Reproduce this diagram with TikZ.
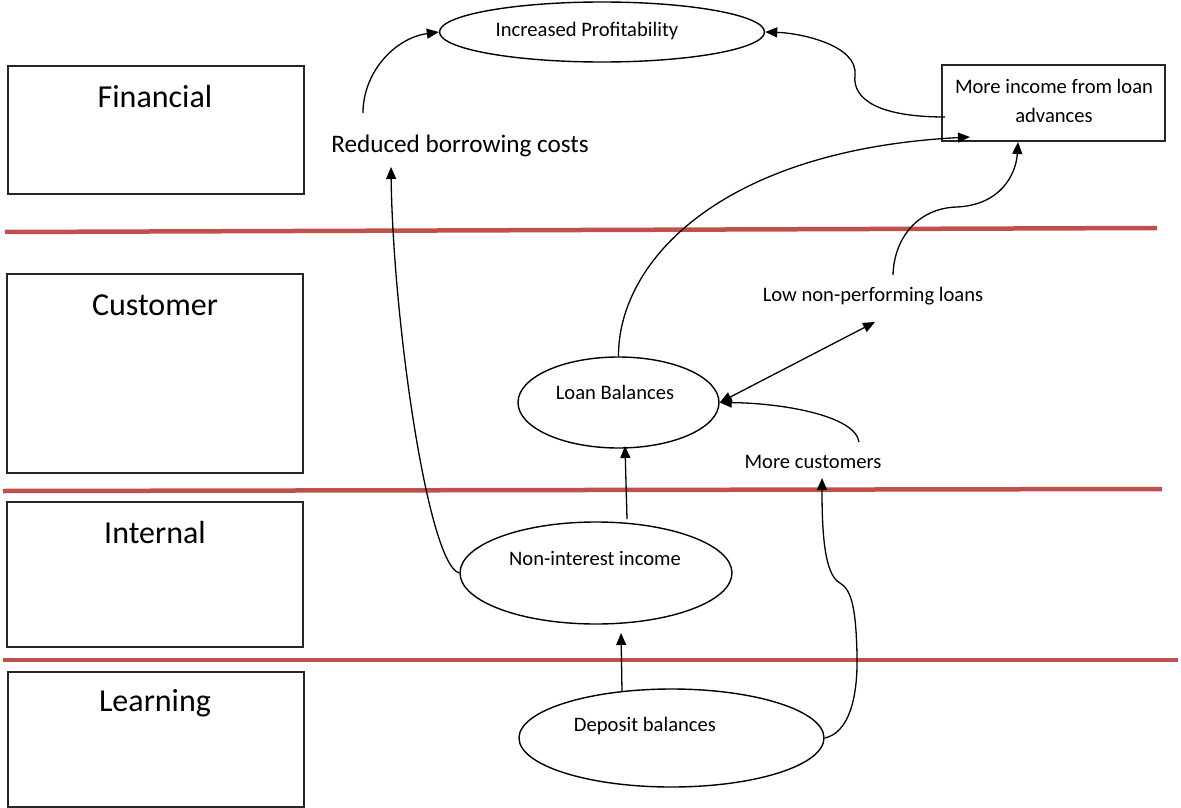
\documentclass[tikz,border=0pt]{standalone}
\usepackage{fontspec}
\setmainfont{Carlito}
\usetikzlibrary{shapes.geometric,arrows.meta}
\definecolor{redline}{RGB}{192,80,77}
\begin{document}
\begin{tikzpicture}[x=1pt,y=-1pt,
  persbox/.style={draw=black!85,line width=1.3pt,rectangle,inner sep=0pt},
  perslabel/.style={font=\fontsize{32}{36}\selectfont,inner sep=0pt},
  oval/.style={draw=black,line width=1.4pt,ellipse,inner sep=0pt},
  smalltext/.style={font=\fontsize{20.6}{24}\selectfont,inner sep=0pt},
  midtext/.style={font=\fontsize{25.2}{28}\selectfont,inner sep=0pt},
  conn/.style={draw=black,line width=1.3pt,-{Triangle[length=12pt,width=10pt]}},
  sep/.style={draw=redline,line width=4.5pt}]
\useasboundingbox (0,0) rectangle (1181,808);

% perspective boxes
\node[persbox,minimum width=296pt,minimum height=128pt] (fin) at (156,130) {};
\node[perslabel] (finl) at (155,97) {Financial};
\node[persbox,minimum width=296pt,minimum height=199pt] (cus) at (155,373.5) {};
\node[perslabel] (cusl) at (155,305) {Customer};
\node[persbox,minimum width=296pt,minimum height=145pt] (int) at (155,574.5) {};
\node[perslabel] (intl) at (155,533) {Internal};
\node[persbox,minimum width=296pt,minimum height=135pt] (lea) at (156,739.5) {};
\node[perslabel] (leal) at (155,703) {Learning};

% separators
\draw[sep] (5,232) -- (1157,228);
\draw[sep] (3,491) -- (1162,489);
\draw[sep] (3,660) -- (1178,660);

% nodes
\node[oval,minimum width=325pt,minimum height=60pt] (ip) at (602,32) {};
\node[smalltext] (ipl) at (587,31) {Increased Profitability};
\node[persbox,line width=1.4pt,minimum width=223pt,minimum height=76pt] (mi) at (1053.5,103) {};
\node[smalltext,align=center] (mil) at (1054,101) {More income from loan\\[5pt]advances};
\node[midtext] (rbc) at (460,146) {Reduced borrowing costs};
\node[oval,minimum width=201pt,minimum height=91pt] (lb) at (618.5,402.5) {};
\node[smalltext] (lbl) at (615,392) {Loan Balances};
\node[smalltext] (lnp) at (873,296) {Low non-performing loans};
\node[smalltext] (mc) at (813,462) {More customers};
\node[oval,minimum width=272pt,minimum height=102pt] (ni) at (596,573) {};
\node[smalltext] (nil) at (595,558) {Non-interest income};
\node[oval,minimum width=305pt,minimum height=98pt] (db) at (671.5,738) {};
\node[smalltext] (dbl) at (645,726) {Deposit balances};

% connector end points
\coordinate (rbcS) at (363,113);
\coordinate (miS) at (945,117);
\coordinate (miT) at (970,137);
\coordinate (miB) at (1018,142);
\coordinate (lnpS) at (893,275);
\coordinate (lnpT) at (875,322);
\coordinate (rbcT) at (391,167);
\coordinate (mcS) at (859,442);
\coordinate (mcT) at (822,478);
\coordinate (niS) at (627,519);
\coordinate (lbT) at (625,446);
\coordinate (dbS) at (622,691);
\coordinate (niT) at (621,633);

% connectors
\draw[conn] (rbcS) .. controls (363,72) and (395,38) .. (ip.west);
\draw[conn] (miS) .. controls (880,117) and (852,100) .. (855,75)
                   .. controls (858,45) and (800,33) .. (ip.east);
\draw[conn] (ni.west) .. controls (428,565) and (393,320) .. (rbcT);
\draw[conn] (lb.north) .. controls (618,262) and (720,150) .. (miT);
\draw[conn] (lnpS) .. controls (894,238) and (918,208) .. (957,207)
                   .. controls (1000,205) and (1016,175) .. (miB);
\draw[conn,{Triangle[length=12pt,width=10pt]}-{Triangle[length=12pt,width=10pt]}] (lb.east) -- (lnpT);
\draw[conn] (mcS) .. controls (855,415) and (780,403) .. (lb.east);
\draw[conn] (niS) -- (lbT);
\draw[conn] (dbS) -- (niT);
\draw[conn] (db.east) .. controls (848,733) and (858,700) .. (857,655)
                      .. controls (856,610) and (852,590) .. (840,583)
                      .. controls (824,575) and (822,530) .. (mcT);
\end{tikzpicture}
\end{document}
